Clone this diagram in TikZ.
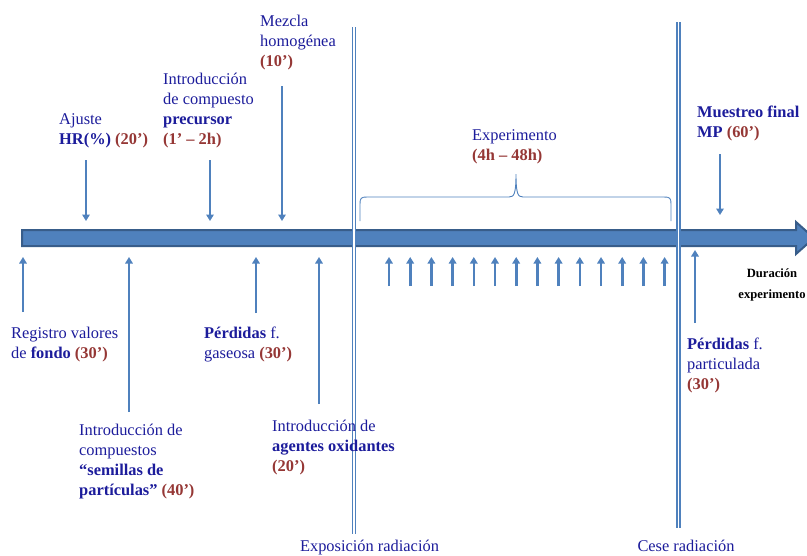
\documentclass[tikz,border=0pt]{standalone}
\usepackage{fontspec}
\setmainfont{Liberation Serif}
\usetikzlibrary{arrows.meta}
\definecolor{barblue}{RGB}{79,129,189}
\definecolor{baredge}{RGB}{56,93,138}
\definecolor{txtblue}{RGB}{28,28,155}
\definecolor{txtred}{RGB}{149,55,53}
\newcommand{\tmval}[1]{\textcolor{txtred}{\textbf{#1}}}
\begin{document}
\begin{tikzpicture}[x=1pt,y=-1pt,
  lbl/.style={inner sep=0pt, anchor=base west, align=left, text=txtblue,
              font=\fontsize{16.4}{20}\selectfont},
  arr/.style={draw=barblue, line width=2.6pt, -{Triangle[width=7.5pt,length=6.5pt]}},
  radline/.style={draw=barblue, line width=1.5pt, double=white, double distance=1.6pt},
  bracepath/.style={draw=barblue, line width=0.9pt}]
\useasboundingbox (0,0) rectangle (807,555);

% time axis
\begin{scope}
  \clip (0,0) rectangle (807,555);
  \fill[barblue, draw=baredge, line width=2pt]
    (22,230) -- (796,230) -- (796,222) -- (814,238) -- (796,254) -- (796,246) -- (22,246) -- cycle;
\end{scope}

% start and end of irradiation
\coordinate (expTop) at (354,27);  \coordinate (expBot) at (354,534);
\coordinate (ceseTop) at (678.5,22); \coordinate (ceseBot) at (678.5,528);
\draw[radline] (expTop) -- (expBot);
\draw[radline] (ceseTop) -- (ceseBot);
\node[lbl, anchor=base] (exp) at (369.5,551) {Exposición radiación};
\node[lbl, anchor=base] (cese) at (686,551) {Cese radiación};

% steps above the axis (anchored at the baseline of the last line)
\node[lbl] (ajuste) at (59,144) {Ajuste\\\textbf{HR(\%)} \tmval{(20’)}};
\node[lbl] (prec) at (163,144) {Introducción\\de compuesto\\\textbf{precursor}\\\tmval{(1’ – 2h)}};
\node[lbl] (mezcla) at (260,66) {Mezcla\\homogénea\\\tmval{(10’)}};
\node[lbl] (expe) at (472,160) {Experimento\\\tmval{(4h – 48h)}};
\node[lbl] (muestreo) at (697,137) {\textbf{Muestreo final}\\\textbf{MP} \tmval{(60’)}};

\coordinate (d1a) at (86,160);  \coordinate (d1b) at (86,221);
\coordinate (d2a) at (210,160); \coordinate (d2b) at (210,221);
\coordinate (d3a) at (282,86);  \coordinate (d3b) at (282,221);
\coordinate (d4a) at (720,154); \coordinate (d4b) at (720,215);
\draw[arr] (d1a) -- (d1b);
\draw[arr] (d2a) -- (d2b);
\draw[arr] (d3a) -- (d3b);
\draw[arr] (d4a) -- (d4b);

% brace over the experiment
\draw[bracepath] (360,221) -- (360,204) .. controls (360,198) and (361,197) .. (367,197)
  -- (509,197) .. controls (514,197) and (516,194) .. (516,174)
  .. controls (516,194) and (518,197) .. (523,197)
  -- (664,197) .. controls (670,197) and (671,198) .. (671,204) -- (671,221);

% steps below the axis
\node[lbl] (fondo) at (11,358) {Registro valores\\de \textbf{fondo} \tmval{(30’)}};
\node[lbl] (semillas) at (79,495) {Introducción de\\compuestos\\\textbf{“semillas de}\\\textbf{partículas”} \tmval{(40’)}};
\node[lbl] (gaseosa) at (204,358) {\textbf{Pérdidas} f.\\gaseosa \tmval{(30’)}};
\node[lbl] (oxid) at (272,471) {Introducción de\\\textbf{agentes oxidantes}\\\tmval{(20’)}};
\node[lbl] (partic) at (687,389) {\textbf{Pérdidas} f.\\particulada\\\tmval{(30’)}};
\node[inner sep=0pt, anchor=base, align=center, font=\fontsize{12.6}{21}\selectfont\bfseries]
  (dur) at (772,298) {Duración\\experimento};

\coordinate (u1a) at (23,312);  \coordinate (u1b) at (23,257);
\coordinate (u2a) at (129,412); \coordinate (u2b) at (129,257);
\coordinate (u3a) at (256,313); \coordinate (u3b) at (256,257);
\coordinate (u4a) at (319,404); \coordinate (u4b) at (319,257);
\coordinate (u5a) at (695,323); \coordinate (u5b) at (695,250);
\draw[arr] (u1a) -- (u1b);
\draw[arr] (u2a) -- (u2b);
\draw[arr] (u3a) -- (u3b);
\draw[arr] (u4a) -- (u4b);
\draw[arr] (u5a) -- (u5b);

% sampling during the experiment
\foreach \i in {0,...,13} {
  \coordinate (s\i a) at ({389+21.2*\i},286);
  \coordinate (s\i b) at ({389+21.2*\i},257);
  \draw[arr] (s\i a) -- (s\i b);
}
\end{tikzpicture}
\end{document}
